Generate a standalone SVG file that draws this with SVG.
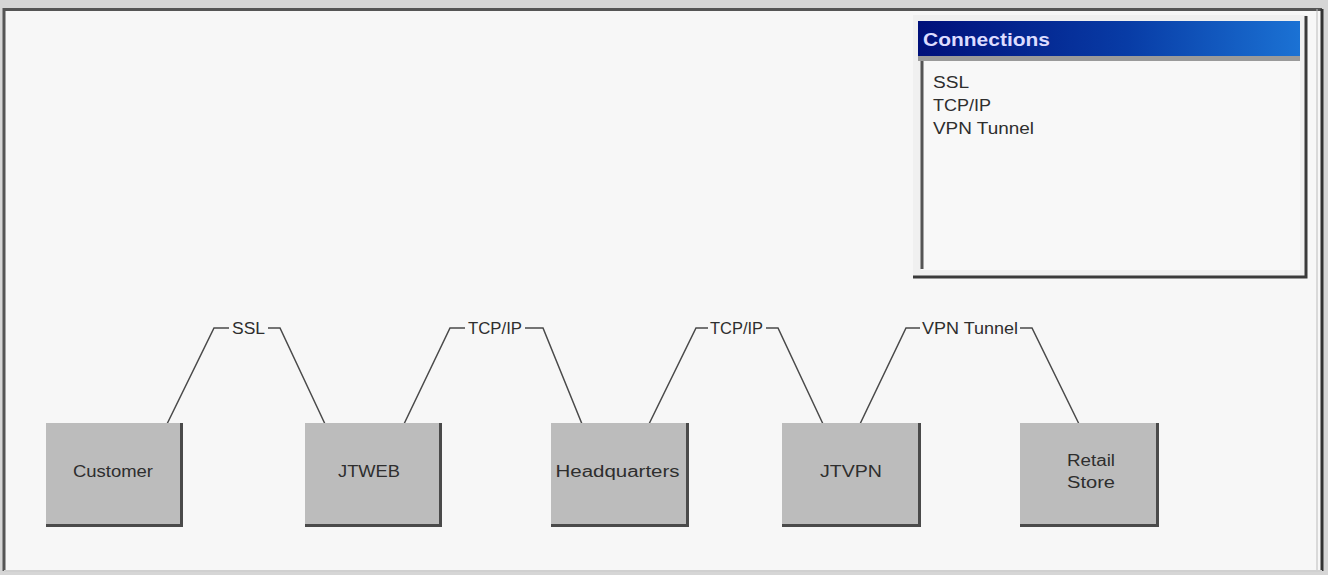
<svg xmlns="http://www.w3.org/2000/svg" width="1328" height="575" viewBox="0 0 1328 575">
<defs>
<linearGradient id="tb" x1="0" y1="0" x2="1" y2="0">
<stop offset="0" stop-color="#00107a"/>
<stop offset="0.55" stop-color="#083ca6"/>
<stop offset="1" stop-color="#1b72d4"/>
</linearGradient>
</defs>
<style>
.node rect.body{fill:#bcbcbc;}
.node path.shadow{fill:none;stroke:#4a4a4a;stroke-width:3;}
.node text{font-family:"Liberation Sans",Arial,sans-serif;font-size:16px;fill:#2e2e2e;text-anchor:middle;}
.conn polyline{fill:none;stroke:#4a4a4a;stroke-width:1.5;}
.conn text{font-family:"Liberation Sans",Arial,sans-serif;font-size:16px;fill:#2e2e2e;text-anchor:middle;}
.list text{font-family:"Liberation Sans",Arial,sans-serif;font-size:16px;fill:#2e2e2e;}
</style>
<rect x="0" y="0" width="1328" height="575" fill="#d6d6d6"/>
<rect x="4" y="9" width="1318" height="562" fill="#f7f7f7"/>
<path d="M4,571 V9.5 H1322" fill="none" stroke="#555" stroke-width="3"/>
<path d="M1322,9 V571" fill="none" stroke="#333" stroke-width="3"/>
<path d="M1317,9 V571" fill="none" stroke="#bbb" stroke-width="1"/>
<path d="M4,571 H1322" fill="none" stroke="#d0d0d0" stroke-width="2"/>

<g id="connections-panel">
<rect x="913" y="15" width="394" height="263" fill="#f0f0f0"/>
<path d="M913,277 H1306 V16" fill="none" stroke="#3a3a3a" stroke-width="3"/>
<rect x="918" y="21" width="382" height="35" fill="url(#tb)"/>
<rect x="918" y="56" width="382" height="5" fill="#9a9a9a"/>
<rect x="921" y="61" width="379" height="209" fill="#f8f8f8"/>
<path d="M922,269 V61" fill="none" stroke="#555" stroke-width="3"/>
<text x="923" y="46" font-family="Liberation Sans, Arial, sans-serif" font-size="18" font-weight="bold" fill="#dcdcff" textLength="127" lengthAdjust="spacingAndGlyphs">Connections</text>
<g class="list">
<text x="933" y="88" textLength="36" lengthAdjust="spacingAndGlyphs">SSL</text>
<text x="933" y="111" textLength="58" lengthAdjust="spacingAndGlyphs">TCP/IP</text>
<text x="933" y="134" textLength="101" lengthAdjust="spacingAndGlyphs">VPN Tunnel</text>
</g>
</g>

<g id="connectors" class="conn">
<polyline points="167,424 214,328 229,328"/>
<text x="248.5" y="334" textLength="33" lengthAdjust="spacingAndGlyphs">SSL</text>
<polyline points="268,328 280,328 325,424"/>
<polyline points="404,424 450,328 465,328"/>
<text x="495" y="334" textLength="54" lengthAdjust="spacingAndGlyphs">TCP/IP</text>
<polyline points="525,328 543,328 582,424"/>
<polyline points="649,424 696,328 708,328"/>
<text x="736.5" y="334" textLength="53" lengthAdjust="spacingAndGlyphs">TCP/IP</text>
<polyline points="766,328 778,328 823,424"/>
<polyline points="860,424 906,328 920,328"/>
<text x="970" y="334" textLength="96" lengthAdjust="spacingAndGlyphs">VPN Tunnel</text>
<polyline points="1020,328 1032,328 1079,424"/>
</g>

<g id="node-customer" class="node">
<rect class="body" x="46" y="423" width="136" height="103"/>
<path class="shadow" d="M46,525.5 H181.5 V423"/>
<text x="113" y="477" textLength="80" lengthAdjust="spacingAndGlyphs">Customer</text>
</g>
<g id="node-jtweb" class="node">
<rect class="body" x="305" y="423" width="136" height="103"/>
<path class="shadow" d="M305,525.5 H440.5 V423"/>
<text x="369" y="477" textLength="62" lengthAdjust="spacingAndGlyphs">JTWEB</text>
</g>
<g id="node-headquarters" class="node">
<rect class="body" x="551" y="423" width="137" height="103"/>
<path class="shadow" d="M551,525.5 H687.5 V423"/>
<text x="617.5" y="477" textLength="124" lengthAdjust="spacingAndGlyphs">Headquarters</text>
</g>
<g id="node-jtvpn" class="node">
<rect class="body" x="782" y="423" width="138" height="103"/>
<path class="shadow" d="M782,525.5 H919.5 V423"/>
<text x="851" y="477" textLength="62" lengthAdjust="spacingAndGlyphs">JTVPN</text>
</g>
<g id="node-retail-store" class="node">
<rect class="body" x="1020" y="423" width="138" height="103"/>
<path class="shadow" d="M1020,525.5 H1157.5 V423"/>
<text x="1091" y="466" textLength="48" lengthAdjust="spacingAndGlyphs">Retail</text>
<text x="1091" y="488" textLength="48" lengthAdjust="spacingAndGlyphs">Store</text>
</g>
</svg>
